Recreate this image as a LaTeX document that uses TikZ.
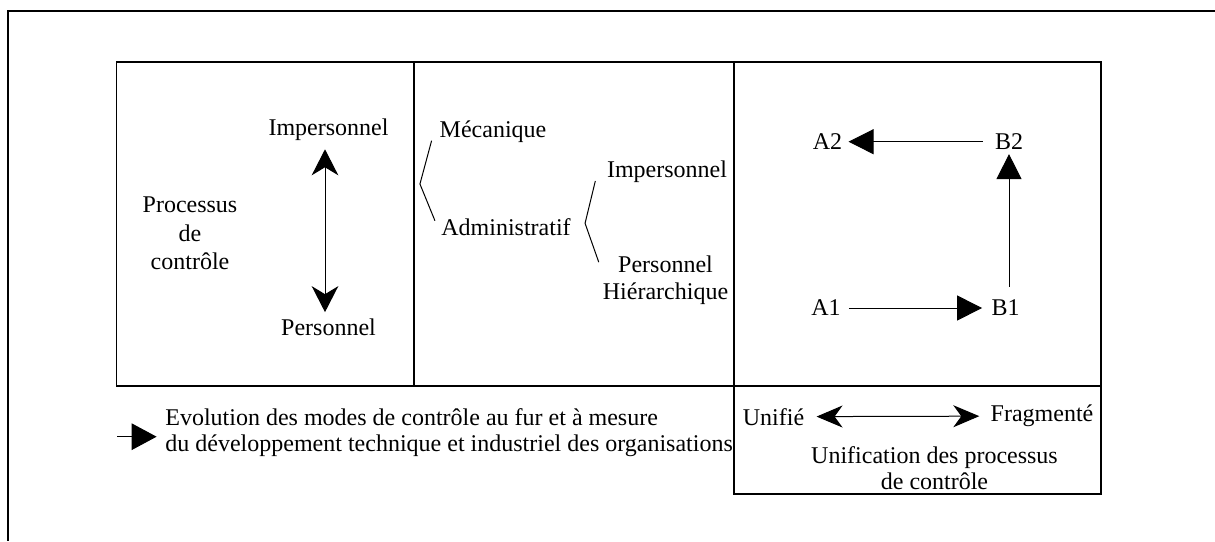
\documentclass[tikz,border=0pt]{standalone}
\usepackage{fontspec}
\setmainfont{Liberation Serif}
\usetikzlibrary{arrows.meta,calc}
\begin{document}
\begin{tikzpicture}[x=0.5pt,y=-0.5pt,
  lbl/.style={inner sep=0pt, font=\fontsize{12}{14}\selectfont},
  multi/.style 2 args={inner sep=0pt, align=center, font=\fontsize{12}{#1}\selectfont, #2},
  outer/.style={line width=1pt},
  frame/.style={line width=0.6pt},
  link/.style={line width=0.5pt},
  solidtip/.style={-{Triangle[length=12.5pt,width=12.5pt]}},
  opentips/.style={{Stealth[length=13pt,width=#1,inset=4pt]}-{Stealth[length=13pt,width=#1,inset=4pt]}}
]
\useasboundingbox (0,0) rectangle (1215,541);

% outer frame (top and left edges)
\draw[outer] (1215,10.7) -- (7.5,10.7) -- (7.5,541);

% panels
\draw[frame] (116.3,62) rectangle (1101,386);
\draw[frame] (414,62) -- (414,386);
\draw[line width=1pt] (734,62) -- (734,494);
\draw[frame] (734,386) -- (734,494) -- (1101,494) -- (1101,386);

% first panel: process of control
\node[multi={14.25pt}{}] (proc) at (190,233.5) {Processus\\de\\contrôle};
\node[lbl] (imp1) at (328.5,130) {Impersonnel};
\node[lbl] (pers) at (328.5,327) {Personnel};
\draw[link, opentips=13.3pt, shorten <=4pt, shorten >=3pt]
  ($(imp1.south)+(-3.5,0)$) -- ($(pers.north)+(-3.5,0)$);

% second panel: modes of control
\node[lbl] (mec) at (493,131.7) {Mécanique};
\node[lbl] (adm) at (506,226.7) {Administratif};
\node[lbl] (imp2) at (667,171.7) {Impersonnel};
\node[multi={13.3pt}{}] (persh) at (665.5,280.5) {Personnel\\Hiérarchique};
\draw[link] ($(mec.west)+(-7.7,9)$) -- ($(adm.west)+(-21,-42.7)$) -- ($(adm.west)+(-6,-6)$);
\draw[link] ($(imp2.west)+(-11.3,9.3)$) -- ($(adm.east)+(14,-3.4)$) -- ($(persh.west)+(-3.7,-18.3)$);

% third panel: evolution path
\node[lbl] (A2) at (827.5,141.7) {A2};
\node[lbl] (B2) at (1009,141.7) {B2};
\node[lbl] (A1) at (826,308) {A1};
\node[lbl] (B1) at (1005.5,308) {B1};
\draw[link, solidtip, shorten <=3.85pt, shorten >=4.5pt] (A1) -- (B1);
\draw[link, solidtip, shorten <=6.5pt, shorten >=2pt] (B1.north -| B2) -- (B2.south);
\draw[link, solidtip, shorten <=6pt, shorten >=3pt] (B2) -- (A2);

% bottom-right box: unification scale
\node[lbl] (uni) at (773.5,416.7) {Unifié};
\node[lbl] (frag) at (1042,416) {Fragmenté};
\draw[link, opentips=11pt, shorten <=6pt, shorten >=5.5pt] (uni) -- (frag);
\node[multi={13.3pt}{}] (unif) at (934.5,468) {Unification des processus\\de contrôle};

% legend
\node[multi={13pt}{align=left, anchor=west}] (legend) at (165,433)
  {Evolution des modes de contrôle au fur et à mesure\\du développement technique et industriel des organisations};
\coordinate (lgstart) at (117,436.7);
\draw[link, -{Triangle[length=12.5pt,width=13.3pt]}, shorten >=4.2pt] (lgstart) -- (lgstart -| legend.west);
\end{tikzpicture}
\end{document}
